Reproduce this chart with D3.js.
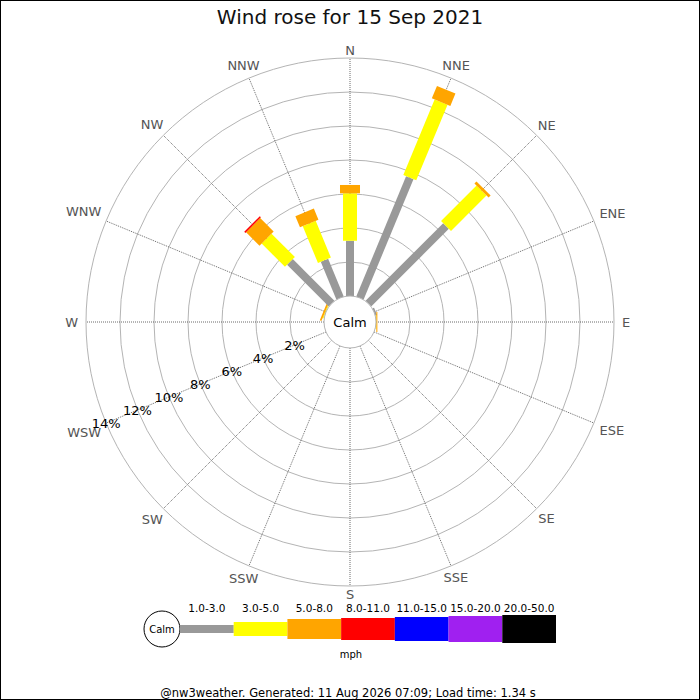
<!DOCTYPE html>
<html>
<head>
<meta charset="utf-8">
<script src="https://cdn.jsdelivr.net/npm/d3@7"></script>
<style>
  body { margin: 0; background: #fff; }
  text { font-family: "DejaVu Sans", sans-serif; }
</style>
</head>
<body>
<div id="chart"></div>
<script>
// Wind rose data, % of day per direction and speed class (mph)
const directions = ["N", "NNE", "NE", "ENE", "E", "ESE", "SE", "SSE",
                    "S", "SSW", "SW", "WSW", "W", "WNW", "NW", "NNW"];
const speedClasses = ["1.0-3.0", "3.0-5.0", "5.0-8.0", "8.0-11.0", "11.0-15.0", "15.0-20.0", "20.0-50.0"];
const pct_1_3   = [3.25, 7.66, 6.46, 0.1, 0, 0, 0, 0, 0, 0, 0, 0, 0, 0, 3.47, 2.4];
const pct_3_5   = [2.79, 4.81, 2.95, 0, 0.02, 0, 0, 0, 0, 0, 0, 0, 0, 0.05, 1.94, 2.34];
const pct_5_8   = [0.49, 0.79, 0.17, 0, 0.06, 0, 0, 0, 0, 0, 0, 0, 0, 0.1, 1.12, 0.71];
const pct_8_11  = [0, 0, 0, 0, 0, 0, 0, 0, 0, 0, 0, 0, 0, 0, 0.09, 0];
const pct_11_15 = [0, 0, 0, 0, 0, 0, 0, 0, 0, 0, 0, 0, 0, 0, 0, 0];
const pct_15_20 = [0, 0, 0, 0, 0, 0, 0, 0, 0, 0, 0, 0, 0, 0, 0, 0];
const pct_20_50 = [0, 0, 0, 0, 0, 0, 0, 0, 0, 0, 0, 0, 0, 0, 0, 0];
const ringTicks = [2, 4, 6, 8, 10, 12, 14];
const title = "Wind rose for 15 Sep 2021";
const footer = "@nw3weather. Generated: 11 Aug 2026 07:09; Load time: 1.34 s";

const series = [pct_1_3, pct_3_5, pct_5_8, pct_8_11, pct_11_15, pct_15_20, pct_20_50];
const colors = ["#999999", "#ffff00", "#ffa500", "#ff0000", "#0000ff", "#a020f0", "#000000"];
const barWidths = [8, 14, 20, 22, 24, 26, 28];

const W = 700, H = 700;
const cx = 350, cy = 322, calmR = 26;

const svg = d3.select("#chart").append("svg")
    .attr("width", W)
    .attr("height", H);

svg.append("rect")
    .attr("x", 0.5).attr("y", 0.5)
    .attr("width", W - 1).attr("height", H - 1)
    .attr("fill", "#fff")
    .attr("stroke", "#000");

svg.append("text")
    .attr("x", W / 2).attr("y", 24)
    .attr("text-anchor", "middle")
    .attr("font-size", 20)
    .attr("fill", "#111")
    .text(title);

const r = d3.scaleLinear().domain([0, 14]).range([calmR, 264]);
const angle = d3.scalePoint().domain(directions).range([0, 360 - 22.5]);

const g = svg.append("g").attr("transform", `translate(${cx},${cy})`);

// rings
g.selectAll(".ring")
    .data(ringTicks)
    .enter().append("circle")
    .attr("class", "ring")
    .attr("r", d => r(d))
    .attr("fill", "none")
    .attr("stroke", "#b4b4b4")
    .attr("stroke-width", 1);

// spokes
const rad = d => angle(d) * Math.PI / 180;
g.selectAll(".spoke")
    .data(directions)
    .enter().append("line")
    .attr("class", "spoke")
    .attr("x1", d => calmR * Math.sin(rad(d)))
    .attr("y1", d => -calmR * Math.cos(rad(d)))
    .attr("x2", d => r(14) * Math.sin(rad(d)))
    .attr("y2", d => -r(14) * Math.cos(rad(d)))
    .attr("stroke", "#444")
    .attr("stroke-width", 0.8)
    .attr("stroke-dasharray", "1,1");

// direction labels
g.selectAll(".dir")
    .data(directions)
    .enter().append("text")
    .attr("class", "dir")
    .attr("font-size", 13)
    .attr("fill", "#555")
    .attr("text-anchor", "middle")
    .attr("dy", "0.35em")
    .text(d => d)
    .each(function(d) {
        const hw = this.getComputedTextLength() / 2;
        const s = Math.sin(rad(d)), c = Math.cos(rad(d));
        const rr = 272 + hw * Math.abs(s);
        d3.select(this).attr("x", rr * s).attr("y", -rr * c);
    });

// petals: stacked rectangles for each direction
directions.forEach((dir, i) => {
    const pg = g.append("g").attr("transform", `rotate(${angle(dir)})`);
    let cum = 0;
    series.forEach((vals, k) => {
        const v = vals[i];
        if (v <= 0) return;
        const r0 = r(cum), r1 = r(cum + v);
        cum += v;
        pg.append("rect")
            .attr("x", -barWidths[k] / 2)
            .attr("y", -r1)
            .attr("width", barWidths[k])
            .attr("height", Math.max(r1 - r0, 0.8))
            .attr("fill", colors[k]);
    });
});

// calm circle
g.append("circle")
    .attr("r", calmR)
    .attr("fill", "#fff")
    .attr("stroke", "#b4b4b4");
g.append("text")
    .attr("text-anchor", "middle")
    .attr("dy", "0.35em")
    .attr("font-size", 13)
    .attr("fill", "#000")
    .text("Calm");

// percentage labels along WSW
const wsw = angle("WSW") * Math.PI / 180;
g.selectAll(".pct")
    .data(ringTicks)
    .enter().append("text")
    .attr("class", "pct")
    .attr("x", d => r(d) * Math.sin(wsw))
    .attr("y", d => -r(d) * Math.cos(wsw))
    .attr("dy", "0.35em")
    .attr("text-anchor", "middle")
    .attr("font-size", 13)
    .attr("fill", "#000")
    .text(d => d + "%");

// legend
const lx = d3.scaleBand().domain(speedClasses).range([180, 556]);
const ly = 629;
const leg = svg.append("g");
leg.append("circle")
    .attr("cx", 162).attr("cy", ly).attr("r", 18)
    .attr("fill", "#fff").attr("stroke", "#000");
leg.append("text")
    .attr("x", 162).attr("y", ly).attr("dy", "0.35em")
    .attr("text-anchor", "middle").attr("font-size", 10)
    .text("Calm");
leg.selectAll(".lbar")
    .data(speedClasses)
    .enter().append("rect")
    .attr("x", d => lx(d))
    .attr("y", (d, k) => ly - barWidths[k] / 2)
    .attr("width", lx.bandwidth())
    .attr("height", (d, k) => barWidths[k])
    .attr("fill", (d, k) => colors[k]);
leg.selectAll(".llab")
    .data(speedClasses)
    .enter().append("text")
    .attr("x", d => lx(d) + lx.bandwidth() / 2)
    .attr("y", 612)
    .attr("text-anchor", "middle")
    .attr("font-size", 10.5)
    .text(d => d);
leg.append("text")
    .attr("x", 351).attr("y", 658)
    .attr("text-anchor", "middle").attr("font-size", 10)
    .text("mph");

svg.append("text")
    .attr("x", 348).attr("y", 697)
    .attr("text-anchor", "middle")
    .attr("font-size", 11.5)
    .text(footer);
</script>
</body>
</html>
